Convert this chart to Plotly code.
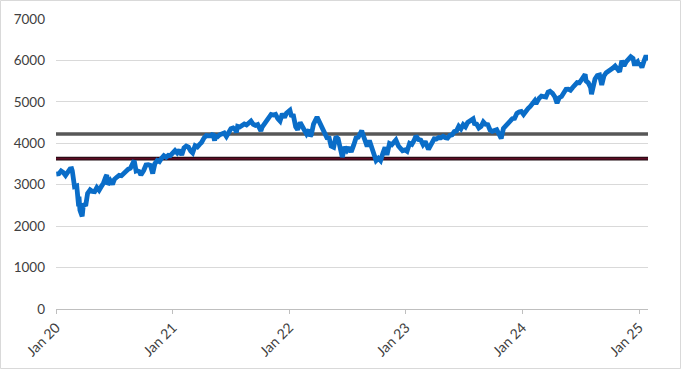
import plotly.graph_objects as go

# ---- data (approximate S&P 500 levels) ----
dates_2020 = ["2020-01-02","2020-01-10","2020-01-17","2020-01-24","2020-01-31","2020-02-07","2020-02-14","2020-02-19","2020-02-21","2020-02-28","2020-03-06","2020-03-12","2020-03-13","2020-03-16","2020-03-20","2020-03-23","2020-03-27","2020-04-03","2020-04-09","2020-04-17","2020-04-24","2020-05-01","2020-05-08","2020-05-15","2020-05-22","2020-05-29","2020-06-05","2020-06-08","2020-06-11","2020-06-19","2020-06-26","2020-07-02","2020-07-10","2020-07-17","2020-07-24","2020-07-31","2020-08-07","2020-08-14","2020-08-21","2020-08-28","2020-09-02","2020-09-08","2020-09-11","2020-09-18","2020-09-23","2020-10-02","2020-10-09","2020-10-16","2020-10-23","2020-10-30","2020-11-06","2020-11-13","2020-11-20","2020-11-27","2020-12-04","2020-12-11","2020-12-18","2020-12-24","2020-12-31"]
values_2020 = [3258,3265,3330,3295,3225,3328,3380,3386,3338,2954,2972,2481,2711,2386,2305,2237,2541,2489,2790,2875,2837,2831,2930,2864,2955,3044,3194,3232,3002,3098,3009,3130,3185,3225,3216,3271,3351,3373,3397,3508,3580,3332,3341,3319,3237,3348,3477,3484,3465,3270,3510,3585,3558,3638,3699,3663,3709,3703,3756]

dates_2021 = ["2021-01-08","2021-01-15","2021-01-22","2021-01-29","2021-02-05","2021-02-12","2021-02-19","2021-02-26","2021-03-04","2021-03-12","2021-03-19","2021-03-26","2021-04-01","2021-04-09","2021-04-16","2021-04-23","2021-04-30","2021-05-07","2021-05-12","2021-05-14","2021-05-21","2021-05-28","2021-06-04","2021-06-11","2021-06-18","2021-06-25","2021-07-02","2021-07-09","2021-07-16","2021-07-19","2021-07-23","2021-07-30","2021-08-06","2021-08-13","2021-08-20","2021-08-27","2021-09-03","2021-09-10","2021-09-17","2021-09-24","2021-10-01","2021-10-04","2021-10-08","2021-10-15","2021-10-22","2021-10-29","2021-11-05","2021-11-12","2021-11-19","2021-11-26","2021-11-30","2021-12-03","2021-12-10","2021-12-17","2021-12-23","2021-12-31"]
values_2021 = [3825,3768,3841,3714,3887,3934,3907,3811,3768,3943,3913,3975,4020,4129,4185,4180,4181,4233,4063,4174,4156,4204,4230,4247,4166,4281,4352,4370,4327,4258,4412,4395,4437,4468,4442,4509,4535,4459,4433,4455,4357,4300,4391,4471,4545,4605,4697,4683,4698,4595,4567,4538,4712,4620,4726,4766]

dates_2022 = ["2022-01-03","2022-01-07","2022-01-14","2022-01-21","2022-01-27","2022-02-04","2022-02-11","2022-02-18","2022-02-24","2022-03-04","2022-03-08","2022-03-11","2022-03-18","2022-03-29","2022-04-08","2022-04-14","2022-04-22","2022-04-29","2022-05-06","2022-05-12","2022-05-20","2022-05-27","2022-06-03","2022-06-10","2022-06-16","2022-06-24","2022-07-01","2022-07-08","2022-07-14","2022-07-22","2022-07-29","2022-08-05","2022-08-12","2022-08-16","2022-08-19","2022-08-26","2022-09-02","2022-09-09","2022-09-16","2022-09-23","2022-09-30","2022-10-07","2022-10-12","2022-10-14","2022-10-21","2022-10-28","2022-11-03","2022-11-11","2022-11-18","2022-11-25","2022-12-01","2022-12-09","2022-12-16","2022-12-22","2022-12-30"]
values_2022 = [4796,4677,4663,4398,4326,4501,4419,4349,4226,4329,4171,4204,4463,4632,4488,4392,4272,4132,4123,3930,3901,4158,4109,3901,3667,3912,3825,3899,3790,3962,4130,4145,4280,4305,4228,4058,3924,4067,3873,3693,3586,3640,3577,3583,3752,3901,3720,3993,3965,4026,4080,3934,3852,3822,3840]

dates_2023 = ["2023-01-05","2023-01-13","2023-01-20","2023-01-27","2023-02-02","2023-02-10","2023-02-17","2023-02-24","2023-03-03","2023-03-13","2023-03-17","2023-03-24","2023-03-31","2023-04-07","2023-04-14","2023-04-21","2023-04-28","2023-05-05","2023-05-12","2023-05-19","2023-05-26","2023-06-02","2023-06-09","2023-06-16","2023-06-23","2023-06-30","2023-07-07","2023-07-14","2023-07-21","2023-07-31","2023-08-04","2023-08-11","2023-08-18","2023-08-25","2023-09-01","2023-09-08","2023-09-15","2023-09-22","2023-09-29","2023-10-06","2023-10-13","2023-10-20","2023-10-27","2023-11-03","2023-11-10","2023-11-17","2023-11-24","2023-12-01","2023-12-08","2023-12-15","2023-12-22","2023-12-29"]
values_2023 = [3808,3999,3973,4071,4180,4090,4079,3970,4046,3855,3917,3971,4109,4105,4138,4133,4169,4136,4124,4192,4205,4282,4299,4410,4348,4450,4399,4505,4536,4589,4478,4464,4370,4406,4516,4457,4450,4320,4288,4308,4327,4224,4117,4358,4415,4514,4559,4595,4604,4719,4755,4770]

dates_2024 = ["2024-01-05","2024-01-12","2024-01-19","2024-01-26","2024-02-02","2024-02-09","2024-02-13","2024-02-16","2024-02-23","2024-03-01","2024-03-08","2024-03-15","2024-03-22","2024-03-28","2024-04-05","2024-04-12","2024-04-19","2024-04-26","2024-05-03","2024-05-10","2024-05-17","2024-05-24","2024-05-31","2024-06-07","2024-06-14","2024-06-21","2024-06-28","2024-07-05","2024-07-12","2024-07-16","2024-07-19","2024-07-26","2024-08-02","2024-08-05","2024-08-09","2024-08-16","2024-08-23","2024-08-30","2024-09-06","2024-09-13","2024-09-20","2024-09-27","2024-10-04","2024-10-11","2024-10-18","2024-10-25","2024-11-01","2024-11-08","2024-11-15","2024-11-22","2024-11-29","2024-12-06","2024-12-13","2024-12-18","2024-12-20","2024-12-27","2024-12-31"]
values_2024 = [4697,4784,4840,4891,4959,5027,4953,5006,5089,5137,5124,5117,5235,5254,5204,5123,4967,5100,5128,5223,5303,5305,5278,5347,5432,5465,5460,5567,5615,5667,5505,5459,5346,5186,5344,5554,5634,5648,5408,5626,5703,5738,5751,5815,5864,5808,5729,5995,5870,5969,6032,6090,6051,5872,5930,5971,5882]

dates_2025 = ["2025-01-03","2025-01-10","2025-01-17","2025-01-23","2025-01-27","2025-01-29"]
values_2025 = [5942,5827,5997,6119,6012,6090]

dates = dates_2020 + dates_2021 + dates_2022 + dates_2023 + dates_2024 + dates_2025
values = values_2020 + values_2021 + values_2022 + values_2023 + values_2024 + values_2025

level_gray = 4225
level_red = 3630

tick_dates = ["2020-01-01","2021-01-01","2022-01-01","2023-01-01","2024-01-01","2025-01-01"]
tick_labels = ["Jan 20","Jan 21","Jan 22","Jan 23","Jan 24","Jan 25"]
y_ticks = [0,1000,2000,3000,4000,5000,6000,7000]

x_start, x_end = "2020-01-01", "2025-01-29"

fig = go.Figure()
fig.add_trace(go.Scatter(x=[x_start, x_end], y=[level_gray, level_gray], mode="lines",
                         line=dict(color="#575757", width=3.5), hoverinfo="skip", showlegend=False))
fig.add_trace(go.Scatter(x=[x_start, x_end], y=[level_red, level_red], mode="lines",
                         line=dict(color="#1e0a10", width=3.8), hoverinfo="skip", showlegend=False))
fig.add_trace(go.Scatter(x=[x_start, x_end], y=[level_red, level_red], mode="lines",
                         line=dict(color="#5e0c24", width=1.8), hoverinfo="skip", showlegend=False))
fig.add_trace(go.Scatter(x=dates, y=values, mode="lines",
                         line=dict(color="#0a6dc8", width=4.8), showlegend=False))

W, H = 681, 369
ml, mr, mt, mb = 56, 33, 19, 60
pw, ph = W - ml - mr, H - mt - mb

fig.update_layout(
    width=W, height=H,
    margin=dict(l=ml, r=mr, t=mt, b=mb, autoexpand=False),
    paper_bgcolor="white", plot_bgcolor="white",
    font=dict(family="Lato, Carlito, 'Open Sans', sans-serif", size=13, color="#404040"),
    xaxis=dict(type="date", range=[x_start, x_end], tickvals=tick_dates, ticktext=tick_labels,
               tickangle=-45, showgrid=False, showline=True, linecolor="#bfbfbf", linewidth=1,
               ticks="outside", ticklen=4, tickcolor="#bfbfbf", tickfont=dict(size=14),
               zeroline=False, automargin=False),
    yaxis=dict(range=[0, 7000], tickvals=y_ticks, showgrid=True, gridcolor="#d9d9d9",
               gridwidth=1, showline=False, zeroline=False, ticks="", ticklabelstandoff=10,
               tickfont=dict(size=13.5), automargin=False),
    shapes=[dict(type="rect", xref="paper", yref="paper",
                 x0=(0.5 - ml) / pw, x1=(W - 0.5 - ml) / pw,
                 y0=(H - mb - (H - 0.5)) / ph, y1=(H - mb - 0.5) / ph,
                 line=dict(color="#d9d9d9", width=1), layer="below")],
)

fig.write_html("out.html", config={"displayModeBar": False},
               post_script="document.body.style.margin='0';document.body.style.overflow='hidden';")
